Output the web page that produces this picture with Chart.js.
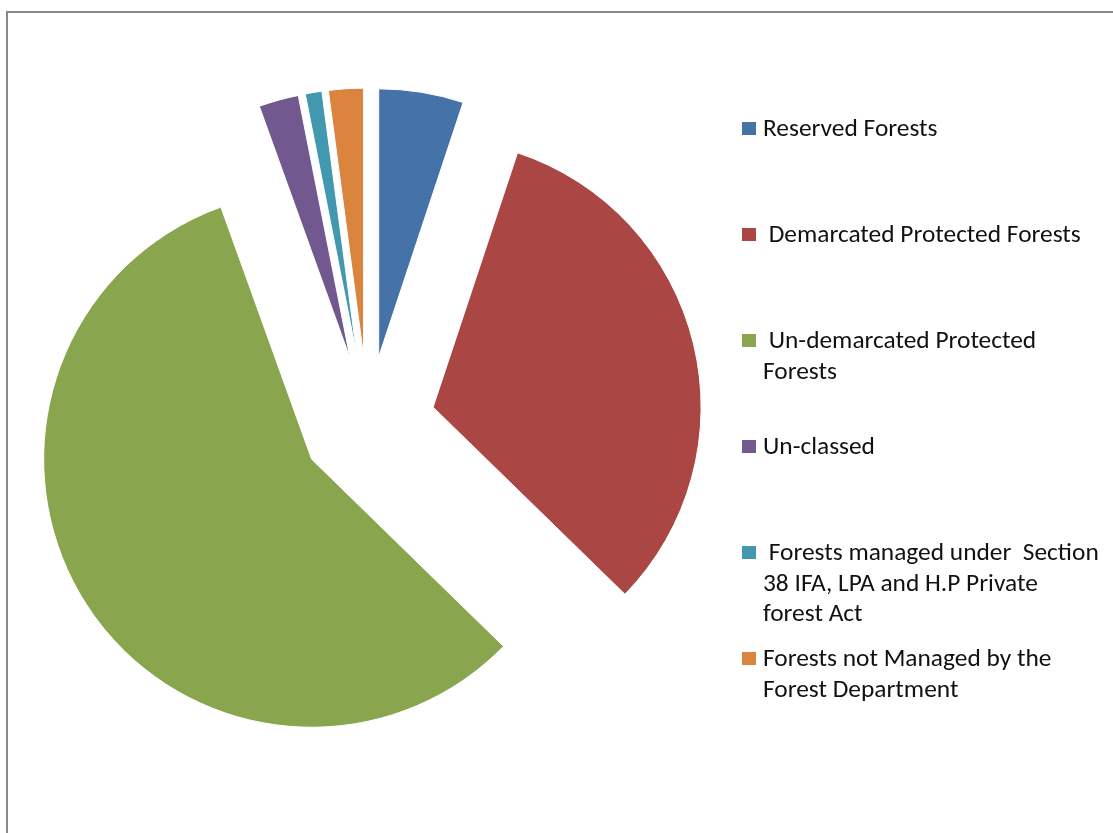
<!DOCTYPE html>
<html>
<head>
<meta charset="utf-8">
<script src="https://cdn.jsdelivr.net/npm/chart.js@4"></script>
<style>
  html, body { margin: 0; padding: 0; background: #fff; }
  #wrap { position: relative; width: 1113px; height: 833px; overflow: hidden; }
  #frame { position: absolute; left: 6px; top: 11px; right: -10px; bottom: -10px;
           border-left: 2px solid #888888; border-top: 2px solid #888888; }
  #c { position: absolute; left: 0; top: 0; }
  #legend { position: absolute; left: 742px; top: 113px; font-family: Carlito, Lato, sans-serif;
            font-size: 25.4px; color: #111; }
  .item { position: relative; height: 106px; }
  .box { position: absolute; left: 0; top: 9px; width: 14px; height: 13px; }
  .txt { position: absolute; left: 21px; top: 0; line-height: 30.5px; white-space: pre; }
</style>
</head>
<body>
<div id="wrap">
  <div id="frame"></div>
  <canvas id="c" width="1113" height="833"></canvas>
  <div id="legend"></div>
</div>
<script>
// forest area by legal status, share of total (%)
const categories = [
  ['Reserved Forests'],
  [' Demarcated Protected Forests'],
  [' Un-demarcated Protected', 'Forests'],
  ['Un-classed'],
  [' Forests managed under  Section', '38 IFA, LPA and H.P Private', 'forest Act'],
  ['Forests not Managed by the', 'Forest Department']
];
const shares = [5.1, 32.2, 57.2, 2.4, 1.0, 2.1];
const colours = ['#4572A7', '#AA4643', '#89A54E', '#71588F', '#4198AF', '#DB843D'];

// excel style exploded pie: push every slice out along its middle angle
const explode = 67;
const explodePlugin = {
  id: 'explode',
  afterDatasetsUpdate(chart) {
    chart.getDatasetMeta(0).data.forEach(arc => {
      const mid = (arc.startAngle + arc.endAngle) / 2;
      arc.x += Math.cos(mid) * explode;
      arc.y += Math.sin(mid) * explode;
    });
  }
};

new Chart(document.getElementById('c'), {
  type: 'pie',
  data: {
    labels: categories,
    datasets: [{
      data: shares,
      backgroundColor: colours,
      borderColor: '#ffffff',
      borderWidth: 1
    }]
  },
  options: {
    responsive: false,
    animation: false,
    events: [],
    radius: 268,
    layout: { padding: { left: 0, right: 377, top: 13, bottom: 0 } },
    plugins: {
      legend: { display: false },
      tooltip: { enabled: false }
    }
  },
  plugins: [explodePlugin]
});

// legend like the excel one, one row every 106px
const legend = document.getElementById('legend');
categories.forEach((lines, i) => {
  const item = document.createElement('div');
  item.className = 'item';
  const box = document.createElement('div');
  box.className = 'box';
  box.style.background = colours[i];
  const txt = document.createElement('div');
  txt.className = 'txt';
  txt.textContent = lines.join('\n');
  item.appendChild(box);
  item.appendChild(txt);
  legend.appendChild(item);
});
</script>
</body>
</html>
